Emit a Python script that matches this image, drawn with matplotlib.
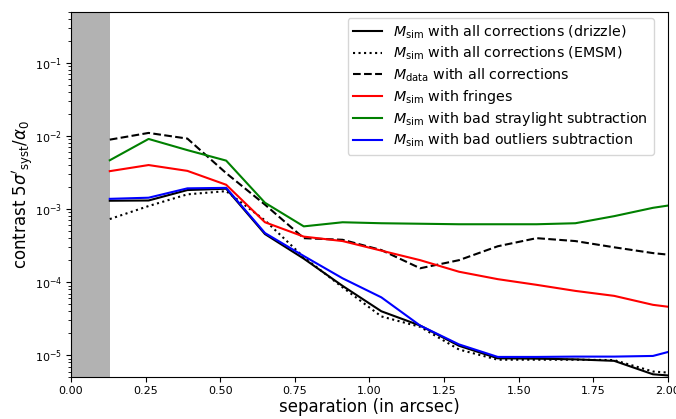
import numpy as np
import matplotlib
matplotlib.use("Agg")
import matplotlib.pyplot as plt

sep = [0.13, 0.26, 0.39, 0.52, 0.65, 0.78, 0.91, 1.04, 1.17, 1.30, 1.43, 1.56, 1.69, 1.82, 1.95, 2.08]

sim_drizzle = [1.3e-3, 1.31e-3, 1.82e-3, 1.9e-3, 4.55e-4, 2.1e-4, 8.9e-5, 4.0e-5, 2.55e-5, 1.35e-5,
               9.1e-6, 9.0e-6, 8.8e-6, 8.4e-6, 5.5e-6, 5.0e-6]
sim_emsm = [7.3e-4, 1.1e-3, 1.59e-3, 1.76e-3, 7.0e-4, 2.2e-4, 8.5e-5, 3.4e-5, 2.45e-5, 1.2e-5,
            8.7e-6, 8.7e-6, 8.7e-6, 8.6e-6, 6.0e-6, 5.5e-6]
data_all = [8.9e-3, 1.1e-2, 9.2e-3, 3.1e-3, 1.15e-3, 4.0e-4, 3.8e-4, 2.75e-4, 1.55e-4, 2.0e-4,
            3.1e-4, 4.0e-4, 3.65e-4, 3.0e-4, 2.5e-4, 2.2e-4]
sim_fringes = [3.3e-3, 4.0e-3, 3.33e-3, 2.15e-3, 6.6e-4, 4.2e-4, 3.65e-4, 2.7e-4, 2.0e-4, 1.39e-4,
               1.1e-4, 9.2e-5, 7.6e-5, 6.5e-5, 4.9e-5, 4.2e-5]
sim_straylight = [4.65e-3, 9.1e-3, 6.4e-3, 4.6e-3, 1.22e-3, 5.8e-4, 6.6e-4, 6.4e-4, 6.3e-4, 6.2e-4,
                  6.2e-4, 6.2e-4, 6.4e-4, 8.0e-4, 1.04e-3, 1.25e-3]
sim_outliers = [1.38e-3, 1.43e-3, 1.92e-3, 1.95e-3, 4.7e-4, 2.28e-4, 1.13e-4, 6.2e-5, 2.55e-5, 1.41e-5,
                9.5e-6, 9.5e-6, 9.6e-6, 9.6e-6, 9.8e-6, 1.35e-5]

labels = [r"$M_{\rm sim}$ with all corrections (drizzle)",
          r"$M_{\rm sim}$ with all corrections (EMSM)",
          r"$M_{\rm data}$ with all corrections",
          r"$M_{\rm sim}$ with fringes",
          r"$M_{\rm sim}$ with bad straylight subtraction",
          r"$M_{\rm sim}$ with bad outliers subtraction"]

fig = plt.figure(figsize=(6.76, 4.19), dpi=100)
ax = fig.add_axes([0.105, 0.0995, 0.883, 0.8725])

ax.axvspan(0, 0.13, color="grey", alpha=0.6, lw=0)
ax.plot(sep, sim_drizzle, color="black", ls="-", lw=1.5, label=labels[0])
ax.plot(sep, sim_emsm, color="black", ls=":", lw=1.5, label=labels[1])
ax.plot(sep, data_all, color="black", ls="--", lw=1.5, label=labels[2])
ax.plot(sep, sim_fringes, color="red", ls="-", lw=1.5, label=labels[3])
ax.plot(sep, sim_straylight, color="green", ls="-", lw=1.5, label=labels[4])
ax.plot(sep, sim_outliers, color="blue", ls="-", lw=1.5, label=labels[5])

ax.set_yscale("log")
ax.set_xlim(0, 2.0)
ax.set_ylim(5e-6, 0.5)
ax.tick_params(labelsize=8, pad=3)
ax.set_xlabel("separation (in arcsec)", fontsize=12, labelpad=1.5)
ax.set_ylabel(r"contrast $5\sigma'_{\rm syst}/\alpha_0$", fontsize=12, labelpad=-1)
ax.legend(loc="upper right", fontsize=10.3, labelspacing=0.28,
          bbox_to_anchor=(0.9766, 0.9836), borderaxespad=0)

fig.savefig("out.png", dpi=100)
